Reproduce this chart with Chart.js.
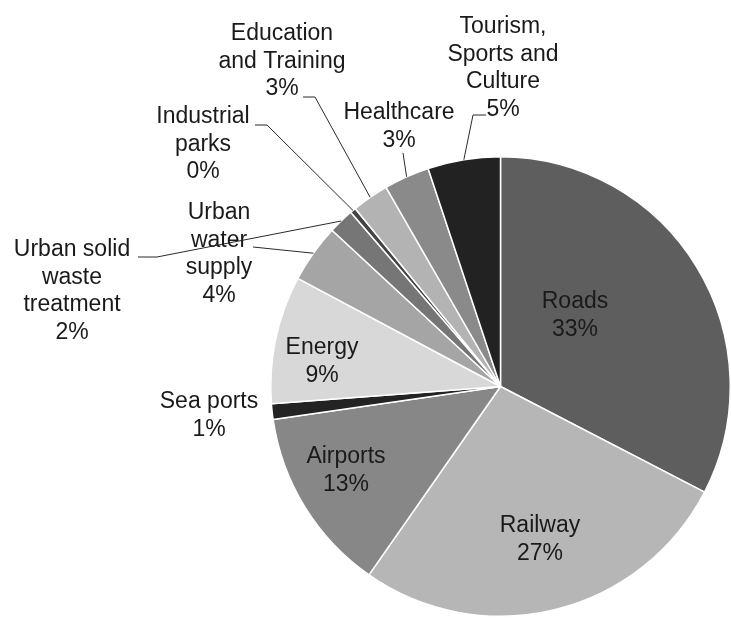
<!DOCTYPE html>
<html>
<head>
<meta charset="utf-8">
<script src="https://cdn.jsdelivr.net/npm/chart.js@4"></script>
<style>
  html, body { margin: 0; padding: 0; background: #fff; }
  #wrap { width: 731px; height: 621px; position: relative; }
</style>
</head>
<body>
<div id="wrap"><canvas id="pieChart"></canvas></div>
<script>
// data (shares of total, %)
const categories = [
    ['Roads'],
    ['Railway'],
    ['Airports'],
    ['Sea ports'],
    ['Energy'],
    ['Urban', 'water', 'supply'],
    ['Urban solid', 'waste', 'treatment'],
    ['Industrial', 'parks'],
    ['Education', 'and Training'],
    ['Healthcare'],
    ['Tourism,', 'Sports and', 'Culture']
];
const shares = [32.6, 27.1, 13.0, 1.1, 9.0, 4.1, 1.8, 0.4, 2.6, 3.2, 5.1];
const colors = ['#5e5e5e', '#b6b6b6', '#878787', '#232323', '#d8d8d8', '#a5a5a5',
    '#767676', '#434343', '#b3b3b3', '#8a8a8a', '#222222'];

// where each label sits, and the bend of its leader line (if any)
const labelPlaces = [
    { x: 575, y: 302 },
    { x: 540, y: 526 },
    { x: 346, y: 457 },
    { x: 209, y: 402 },
    { x: 322, y: 348 },
    { x: 219, y: 213, leader: [[253, 247]] },
    { x: 72, y: 250, leader: [[157, 257], [138, 257]] },
    { x: 203, y: 117, leader: [[267, 125], [255, 125]] },
    { x: 282, y: 34, leader: [[315, 97], [303, 97]] },
    { x: 399, y: 113, leader: [[403, 153]] },
    { x: 503, y: 27, leader: [[473, 115], [486, 115]] }
];

const lineH = 27.5;

const labelPlugin = {
    id: 'pieLabels',
    afterDatasetsDraw(chart) {
        const ctx = chart.ctx;
        const meta = chart.getDatasetMeta(0);
        const total = shares.reduce((a, b) => a + b, 0);
        ctx.save();
        // leader lines
        ctx.strokeStyle = '#2a2a2a';
        ctx.lineWidth = 1;
        labelPlaces.forEach((p, i) => {
            if (!p.leader) return;
            const arc = meta.data[i];
            const mid = (arc.startAngle + arc.endAngle) / 2;
            const ex = arc.x + Math.cos(mid) * arc.outerRadius;
            const ey = arc.y + Math.sin(mid) * arc.outerRadius;
            ctx.beginPath();
            ctx.moveTo(ex, ey);
            p.leader.forEach(pt => ctx.lineTo(pt[0], pt[1]));
            ctx.stroke();
        });
        // texts
        ctx.fillStyle = '#1a1a1a';
        ctx.font = '23px "Liberation Sans", Arial, sans-serif';
        ctx.textAlign = 'center';
        ctx.textBaseline = 'middle';
        labelPlaces.forEach((p, i) => {
            const lines = categories[i].concat([Math.round(shares[i] / total * 100) + '%']);
            lines.forEach((t, k) => ctx.fillText(t, p.x, p.y + k * lineH));
        });
        ctx.restore();
    }
};

new Chart(document.getElementById('pieChart'), {
    type: 'pie',
    data: {
        labels: categories,
        datasets: [{
            data: shares,
            backgroundColor: colors,
            borderColor: '#ffffff',
            borderWidth: 1.5
        }]
    },
    options: {
        responsive: true,
        maintainAspectRatio: false,
        animation: false,
        layout: { padding: { left: 270, right: 0, top: 155, bottom: 3 } },
        plugins: {
            legend: { display: false },
            tooltip: { enabled: false }
        }
    },
    plugins: [labelPlugin]
});
</script>
</body>
</html>
